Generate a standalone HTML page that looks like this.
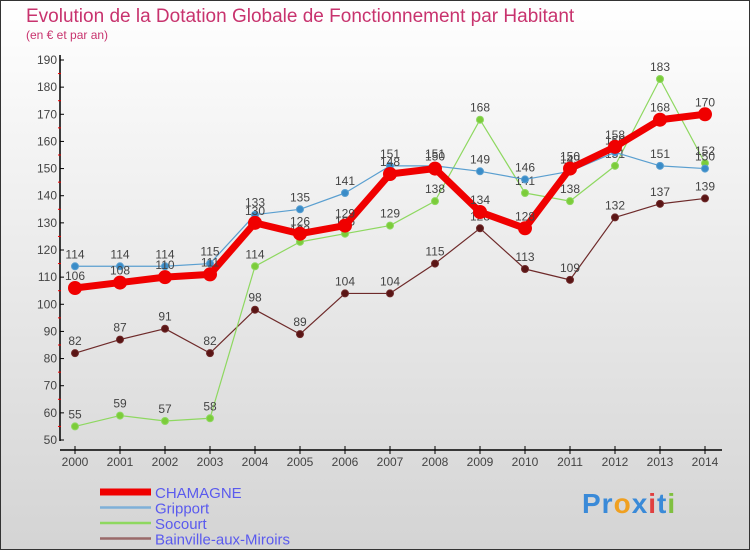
<!DOCTYPE html>
<html><head><meta charset="utf-8"><style>
body{margin:0}
#c{width:750px;height:550px;position:relative;overflow:hidden;font-family:"Liberation Sans",sans-serif}
</style></head><body>
<div id="c">
<svg id="s" width="750" height="550" xmlns="http://www.w3.org/2000/svg">
<defs><linearGradient id="bg" x1="0" y1="0" x2="0" y2="1"><stop offset="0" stop-color="#ffffff"/><stop offset="1" stop-color="#d4d4d4"/></linearGradient></defs>
<rect x="0.5" y="0.5" width="749" height="549" fill="url(#bg)" stroke="#333"/>
<text x="26" y="22" font-size="19" fill="#c8336e">Evolution de la Dotation Globale de Fonctionnement par Habitant</text>
<text x="26" y="39" font-size="12" fill="#c8336e">(en € et par an)</text>
<g id="axes"></g><g id="series"></g><g id="legend"></g>
</svg></div>
<script>
const years=["2000","2001","2002","2003","2004","2005","2006","2007","2008","2009","2010","2011","2012","2013","2014"];
const yTicks=[50,60,70,80,90,100,110,120,130,140,150,160,170,180,190];
const chamagne=[106,108,110,111,130,126,129,148,150,134,128,150,158,168,170];
const gripport=[114,114,114,115,133,135,141,151,151,149,146,149,156,151,150];
const socourt=[55,59,57,58,114,123,126,129,138,168,141,138,151,183,152];
const bainville=[82,87,91,82,98,89,104,104,115,128,113,109,132,137,139];
const NS="http://www.w3.org/2000/svg";
const X=i=>75+i*45, Y=v=>440-(v-50)*380/140;
function mk(t,a,p){const e=document.createElementNS(NS,t);for(const k in a)e.setAttribute(k,a[k]);p.appendChild(e);return e;}
const ax=document.getElementById('axes');
let l=mk('line',{x1:60,y1:55,x2:60,y2:441,stroke:'#000','stroke-width':1.5},ax);

l=mk('line',{x1:60,y1:450,x2:722,y2:450,stroke:'#000','stroke-width':1.5},ax);

yTicks.forEach((v,i)=>{
 let t=mk('line',{x1:60,y1:Y(v),x2:64,y2:Y(v),stroke:'#000'},ax);
 
 let tx=mk('text',{x:57,y:Y(v)+4,'font-size':12,'text-anchor':'end',fill:'#444'},ax);tx.textContent=v;
 
 if(i<yTicks.length-1){let m=mk('line',{x1:58,y1:Y(v+5),x2:61,y2:Y(v+5),stroke:'#e00'},ax);
 }
});
years.forEach((y,i)=>{
 let t=mk('line',{x1:X(i),y1:446,x2:X(i),y2:454,stroke:'#000'},ax);
 
 let tx=mk('text',{x:X(i),y:466,'font-size':12,'text-anchor':'middle',fill:'#444'},ax);tx.textContent=y;
 
});
const sg=document.getElementById('series');
function series(name,data,color,w,r,dot){
 const g=mk('g',{},sg);
 let p=mk('polyline',{points:data.map((v,i)=>X(i)+','+Y(v)).join(' '),fill:'none',stroke:color,'stroke-width':w,'stroke-linejoin':'round'},g);
 
 data.forEach((v,i)=>{
  let c=mk('circle',{cx:X(i),cy:Y(v),r:r,fill:dot,stroke:color,'stroke-width':1},g);
  
  let t=mk('text',{x:X(i),y:Y(v)-8,'font-size':12,'text-anchor':'middle',fill:'#444'},g);t.textContent=v;
  
 });
}
series('bainville',bainville,'#6e2a2a',1.2,3.5,'#5a1515');
series('socourt',socourt,'#8ed860',1.2,3.5,'#7ccc3a');
series('gripport',gripport,'#5a9fd0',1.2,3.5,'#3a8cc8');
series('chamagne',chamagne,'#f00000',7,6.5,'#f00000');
const lg=document.getElementById('legend');
[['CHAMAGNE','#f00000',7],['Gripport','#7fb0d8',2.5],['Socourt','#8ed860',2.5],['Bainville-aux-Miroirs','#9a6a6a',2.5]].forEach((e,i)=>{
 const yy=492+i*15.5;
 let ln=mk('line',{x1:100,y1:yy,x2:151,y2:yy,stroke:e[1],'stroke-width':e[2]},lg);
 
 let t=mk('text',{x:155,y:yy+6,'font-size':15,fill:'#5a5aee'},lg);t.textContent=e[0];
 
});
</script>
<div style="position:absolute;left:582px;top:488px;font-size:28px;font-weight:bold;font-family:'Liberation Sans',sans-serif;letter-spacing:1px"><span style="color:#3a8ad8">Pr</span><span style="color:#f0a020">o</span><span style="color:#3a8ad8">x</span><span style="color:#e04040">i</span><span style="color:#3a8ad8">t</span><span style="color:#80c040">i</span></div>
</body></html>
